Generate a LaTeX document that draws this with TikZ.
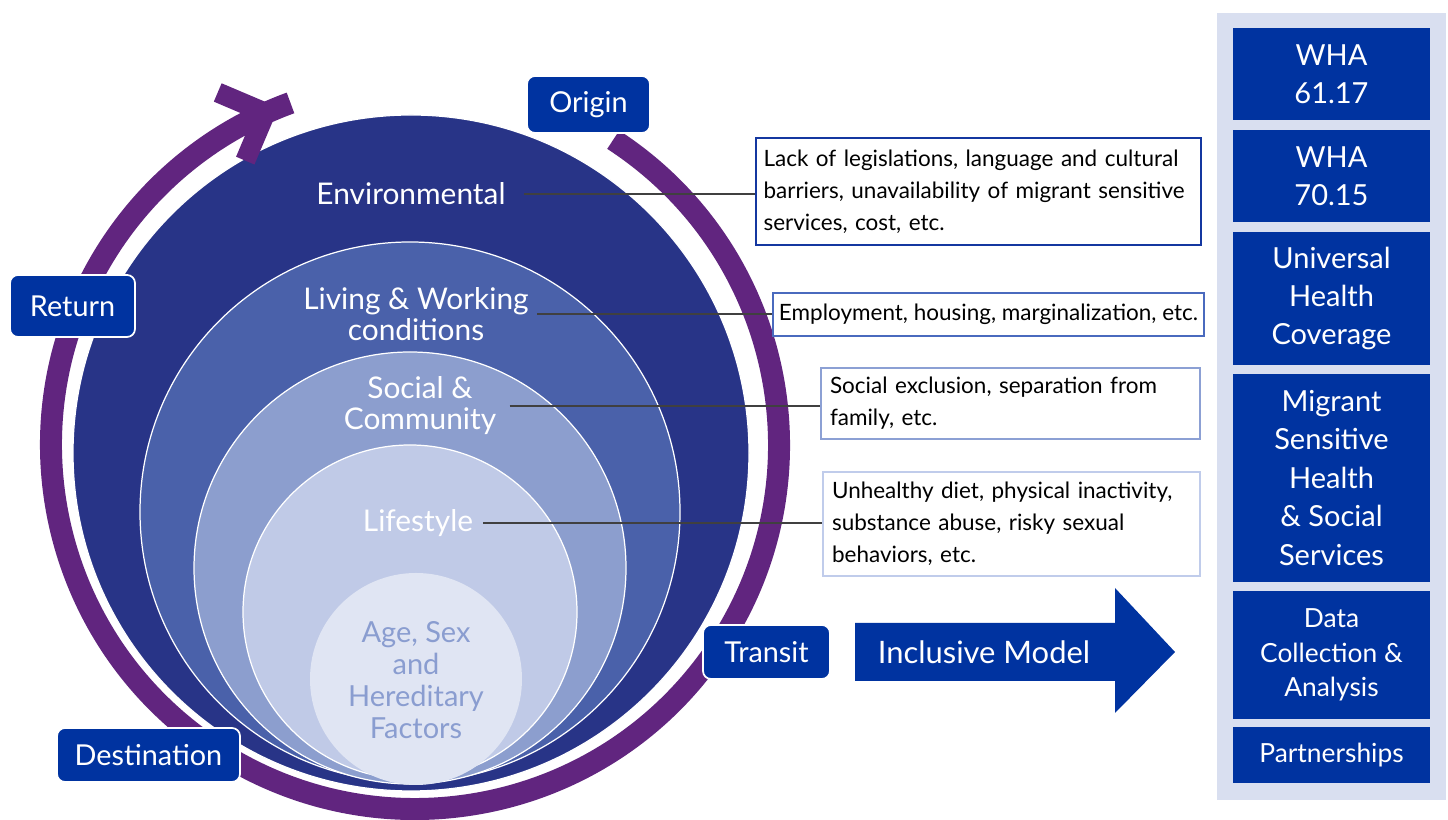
\documentclass[tikz,border=0pt]{standalone}
\usepackage{fontspec}
\setmainfont{Lato}
\usetikzlibrary{calc}

\definecolor{envblue}{RGB}{40,52,135}
\definecolor{livblue}{RGB}{74,97,170}
\definecolor{socblue}{RGB}{140,158,206}
\definecolor{lifblue}{RGB}{192,202,231}
\definecolor{ageblue}{RGB}{224,229,243}
\definecolor{agetext}{RGB}{138,157,208}
\definecolor{cyclepurple}{RGB}{97,37,127}
\definecolor{tagblue}{RGB}{0,51,160}
\definecolor{panelblue}{RGB}{217,223,240}
\definecolor{boxlineA}{RGB}{20,55,160}
\definecolor{boxlineB}{RGB}{74,106,190}
\definecolor{boxlineC}{RGB}{140,160,212}
\definecolor{boxlineD}{RGB}{192,204,235}
\definecolor{leadgray}{RGB}{64,64,64}

\begin{document}
\begin{tikzpicture}[x=0.02cm, y=0.02cm,
  ring/.style={draw=white, line width=0.7pt},
  ringlab/.style={text=white, align=center, font=\fontsize{17}{17.6}\selectfont},
  tag/.style={fill=tagblue, draw=white, line width=1pt, rounded corners=0.16cm,
    text=white, inner sep=0pt, font=\fontsize{16.4}{20}\selectfont},
  factbox/.style={draw, line width=1.2pt, fill=white, inner ysep=0pt,
    align=left, font=\fontsize{12.8}{18.2}\selectfont},
  leader/.style={draw=leadgray, line width=1.4pt},
  goal/.style={fill=tagblue, text=white, align=center, minimum width=3.94cm,
    inner sep=0pt, font=\fontsize{16.5}{21.9}\selectfont}
]

\useasboundingbox (0,0) rectangle (1448,820);

\coordinate (pc) at (415,375);

% the nested circles
\fill[envblue,ring] (411,367) circle[radius=338];
\fill[livblue,ring] (410,308) circle[radius=270];
\fill[socblue,ring] (410,252) circle[radius=216];
\fill[lifblue,ring] (410,208) circle[radius=167];
\fill[ageblue] (416,141) circle[radius=106];

% the purple cycle arrow
\draw[cyclepurple, line width=0.44cm] ($(pc)+(57:364)$) arc[start angle=57, end angle=-250, radius=364];
\begin{scope}[shift={($(pc)+(112:364)$)}, rotate=22]
  \fill[cyclepurple] (0,0) -- (-43.8,43.8) -- (-57.9,29.7) -- (-28.3,0) -- (-57.9,-29.7) -- (-43.8,-43.8) -- cycle;
\end{scope}

% labels of the circles
\node[ringlab, inner xsep=0.36cm] (envlab) at (411,626) {Environmental};
\node[ringlab, inner xsep=0.16cm] (livlab) at (416,506) {Living \& Working\\conditions};
\node[ringlab, inner xsep=0.26cm] (soclab) at (420,414) {Social \&\\Community};
\node[ringlab, inner xsep=0.2cm] (liflab) at (418,297) {Lifestyle};
\node[ringlab, text=agetext, font=\fontsize{16.5}{18.2}\selectfont] (agelab) at (416,140) {Age, Sex\\and\\Hereditary\\Factors};

% the boxes on the right of the circles
\node[factbox, draw=boxlineA, text width=8.6cm, inner xsep=0.15cm, minimum height=2.14cm] (envbox) at (978.5,628.5)
  {\mbox{Lack of legislations, language and cultural}\\\mbox{barriers, unavailability of migrant sensitive}\\services, cost, etc.};
\node[factbox, draw=boxlineB, minimum width=8.5cm, minimum height=0.86cm] (livbox) at (988.5,505.5)
  {Employment, housing, marginalization, etc.};
\node[factbox, draw=boxlineC, text width=7.22cm, inner xsep=0.18cm, minimum height=1.42cm] (socbox) at (1010.5,416.5)
  {Social exclusion, separation from\\family, etc.};
\node[factbox, draw=boxlineD, text width=7.18cm, inner xsep=0.18cm, minimum height=2.08cm] (lifbox) at (1011.5,296)
  {Unhealthy diet, physical inactivity,\\substance abuse, risky sexual\\behaviors, etc.};

% leader lines
\draw[leader] (envlab.east) -- (envlab.east -| envbox.west);
\draw[leader] (livlab.east) -- (livlab.east -| livbox.west);
\draw[leader] (soclab.east) -- (soclab.east -| socbox.west);
\draw[leader] (liflab.east) -- (liflab.east -| lifbox.west);

% stages of the migration cycle
\node[tag, minimum width=2.46cm, minimum height=1.14cm] (origin) at (588.5,715.5) {Origin};
\node[tag, minimum width=2.5cm, minimum height=1.24cm] (return) at (72.5,514) {Return};
\node[tag, minimum width=3.66cm, minimum height=1.08cm] (dest) at (148.5,65) {Destination};
\node[tag, minimum width=2.54cm, minimum height=1.08cm] (transit) at (766.5,168) {Transit};

% the big arrow
\fill[tagblue] (855,197) -- (1115,197) -- (1115,232) -- (1175,168) -- (1115,107) -- (1115,139) -- (855,139) -- cycle;
\node[text=white, font=\fontsize{17.6}{20}\selectfont] (model) at (984,168) {Inclusive Model};

% the column of the model
\fill[panelblue] (1217,20) rectangle (1446,807);
\node[goal, minimum height=1.84cm] (wha1) at (1331.5,746) {WHA\\61.17};
\node[goal, minimum height=1.84cm] (wha2) at (1331.5,644) {WHA\\70.15};
\node[goal, minimum height=2.66cm] (uhc) at (1331.5,521.5) {Universal\\Health\\Coverage};
\node[goal, minimum height=4.16cm] (mshs) at (1331.5,342) {Migrant\\Sensitive\\Health\\\& Social\\Services};
\node[goal, minimum height=2.56cm, font=\fontsize{15}{19.6}\selectfont] (data) at (1331.5,165) {Data\\Collection \&\\Analysis};
\node[goal, minimum height=1.12cm, font=\fontsize{15}{19.6}\selectfont] (partner) at (1331.5,65) {Partnerships};

\end{tikzpicture}
\end{document}
